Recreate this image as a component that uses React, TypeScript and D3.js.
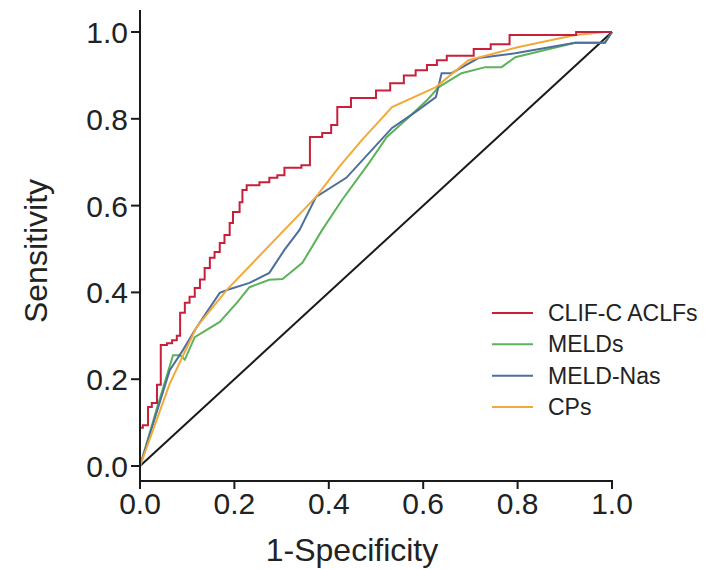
import React from "react";
import * as d3 from "d3";

const xTicks = [0, 0.2, 0.4, 0.6, 0.8, 1.0];
const yTicks = [0, 0.2, 0.4, 0.6, 0.8, 1.0];
const seriesNames = ["CLIF-C ACLFs", "MELDs", "MELD-Nas", "CPs"];
const seriesColors = ["#c8203a", "#5bb35a", "#4d6f9c", "#f2a93b"];

const clifFpr = [0, 0, 0.006, 0.017, 0.025, 0.036, 0.044, 0.057, 0.068, 0.078, 0.085, 0.095, 0.105, 0.116, 0.127, 0.137, 0.148, 0.158, 0.169, 0.179, 0.19, 0.197, 0.211, 0.217, 0.226, 0.253, 0.274, 0.291, 0.306, 0.342, 0.36, 0.386, 0.405, 0.418, 0.447, 0.5, 0.53, 0.559, 0.584, 0.608, 0.629, 0.65, 0.707, 0.743, 0.783, 0.924, 1.0];
const clifTpr = [0, 0.088, 0.094, 0.136, 0.145, 0.187, 0.279, 0.283, 0.29, 0.3, 0.353, 0.376, 0.39, 0.41, 0.43, 0.456, 0.48, 0.493, 0.514, 0.532, 0.56, 0.585, 0.608, 0.636, 0.647, 0.654, 0.664, 0.67, 0.687, 0.693, 0.758, 0.767, 0.786, 0.827, 0.848, 0.865, 0.882, 0.9, 0.912, 0.924, 0.935, 0.945, 0.961, 0.972, 0.993, 1.0, 1.0];

const meldFpr = [0, 0.035, 0.07, 0.085, 0.095, 0.116, 0.169, 0.205, 0.232, 0.274, 0.302, 0.344, 0.386, 0.428, 0.485, 0.523, 0.57, 0.61, 0.633, 0.681, 0.732, 0.766, 0.795, 0.922, 0.985, 1];
const meldTpr = [0, 0.13, 0.255, 0.255, 0.245, 0.297, 0.332, 0.376, 0.412, 0.429, 0.431, 0.468, 0.544, 0.613, 0.698, 0.758, 0.804, 0.845, 0.873, 0.905, 0.919, 0.919, 0.942, 0.975, 0.975, 1];

const meldNaFpr = [0, 0.063, 0.091, 0.116, 0.133, 0.169, 0.186, 0.232, 0.274, 0.306, 0.338, 0.373, 0.437, 0.485, 0.534, 0.584, 0.627, 0.639, 0.66, 0.717, 0.795, 0.922, 0.985, 1];
const meldNaTpr = [0, 0.221, 0.267, 0.313, 0.341, 0.399, 0.406, 0.422, 0.445, 0.498, 0.544, 0.62, 0.664, 0.721, 0.779, 0.816, 0.85, 0.905, 0.905, 0.94, 0.951, 0.975, 0.975, 1];

const cpFpr = [0, 0.063, 0.12, 0.184, 0.373, 0.422, 0.47, 0.534, 0.627, 0.696, 0.8, 0.922, 0.985, 1];
const cpTpr = [0, 0.19, 0.32, 0.406, 0.62, 0.689, 0.751, 0.827, 0.873, 0.935, 0.965, 0.993, 1, 1];

const refFpr = [0, 1];
const refTpr = [0, 1];

const W = 714;
const H = 569;
const FONT = "'Liberation Sans', Arial, Helvetica, sans-serif";

export default function App() {
  const x = d3.scaleLinear().domain([0, 1]).range([140, 612]);
  const y = d3.scaleLinear().domain([0, 1]).range([466, 32]);
  const pts = (fx: number[], ty: number[]) => fx.map((v, i) => [v, ty[i]] as [number, number]);
  const lin = d3.line<[number, number]>().x((d) => x(d[0])).y((d) => y(d[1]));
  const step = d3.line<[number, number]>().x((d) => x(d[0])).y((d) => y(d[1])).curve(d3.curveStepAfter);
  const fmt = d3.format(".1f");
  const axisY = 481;
  const axisX = 140;

  const legendY = d3.scalePoint<string>().domain(seriesNames).range([313, 407]);

  return (
    <svg width={W} height={H} style={{ position: "absolute", left: 0, top: 0, background: "#fff" }} fontFamily={FONT}>
      <rect x={0} y={0} width={W} height={H} fill="#fff" />
      {/* reference diagonal */}
      <path d={lin(pts(refFpr, refTpr)) || ""} fill="none" stroke="#1a1a1a" strokeWidth={2} />
      <path d={lin(pts(meldFpr, meldTpr)) || ""} fill="none" stroke={seriesColors[1]} strokeWidth={2} />
      <path d={lin(pts(meldNaFpr, meldNaTpr)) || ""} fill="none" stroke={seriesColors[2]} strokeWidth={2} />
      <path d={lin(pts(cpFpr, cpTpr)) || ""} fill="none" stroke={seriesColors[3]} strokeWidth={2} />
      <path d={step(pts(clifFpr, clifTpr)) || ""} fill="none" stroke={seriesColors[0]} strokeWidth={2} />

      {/* axes */}
      <line x1={axisX} x2={axisX} y1={10} y2={axisY} stroke="#1a1a1a" strokeWidth={2} />
      <line x1={axisX - 1} x2={x(1) + 1} y1={axisY} y2={axisY} stroke="#1a1a1a" strokeWidth={2} />
      {yTicks.map((t) => (
        <g key={"y" + t}>
          <line x1={axisX - 9} x2={axisX} y1={y(t)} y2={y(t)} stroke="#1a1a1a" strokeWidth={2} />
          <text x={axisX - 12} y={y(t) + 11} textAnchor="end" fontSize={30} fill="#222">
            {fmt(t)}
          </text>
        </g>
      ))}
      {xTicks.map((t) => (
        <g key={"x" + t}>
          <line x1={x(t)} x2={x(t)} y1={axisY} y2={axisY + 8} stroke="#1a1a1a" strokeWidth={2} />
          <text x={x(t)} y={514} textAnchor="middle" fontSize={30} fill="#222">
            {fmt(t)}
          </text>
        </g>
      ))}
      <text x={352} y={561} textAnchor="middle" fontSize={32} fill="#222">
        1-Specificity
      </text>
      <text x={47} y={251} textAnchor="middle" fontSize={32} fill="#222" transform="rotate(-90, 47, 251)">
        Sensitivity
      </text>

      {/* legend */}
      {seriesNames.map((n, i) => (
        <g key={n}>
          <line x1={492} x2={533} y1={legendY(n)!} y2={legendY(n)!} stroke={seriesColors[i]} strokeWidth={2} />
          <text x={548} y={(legendY(n) as number) + 8} fontSize={23} fill="#222">
            {n}
          </text>
        </g>
      ))}
    </svg>
  );
}
